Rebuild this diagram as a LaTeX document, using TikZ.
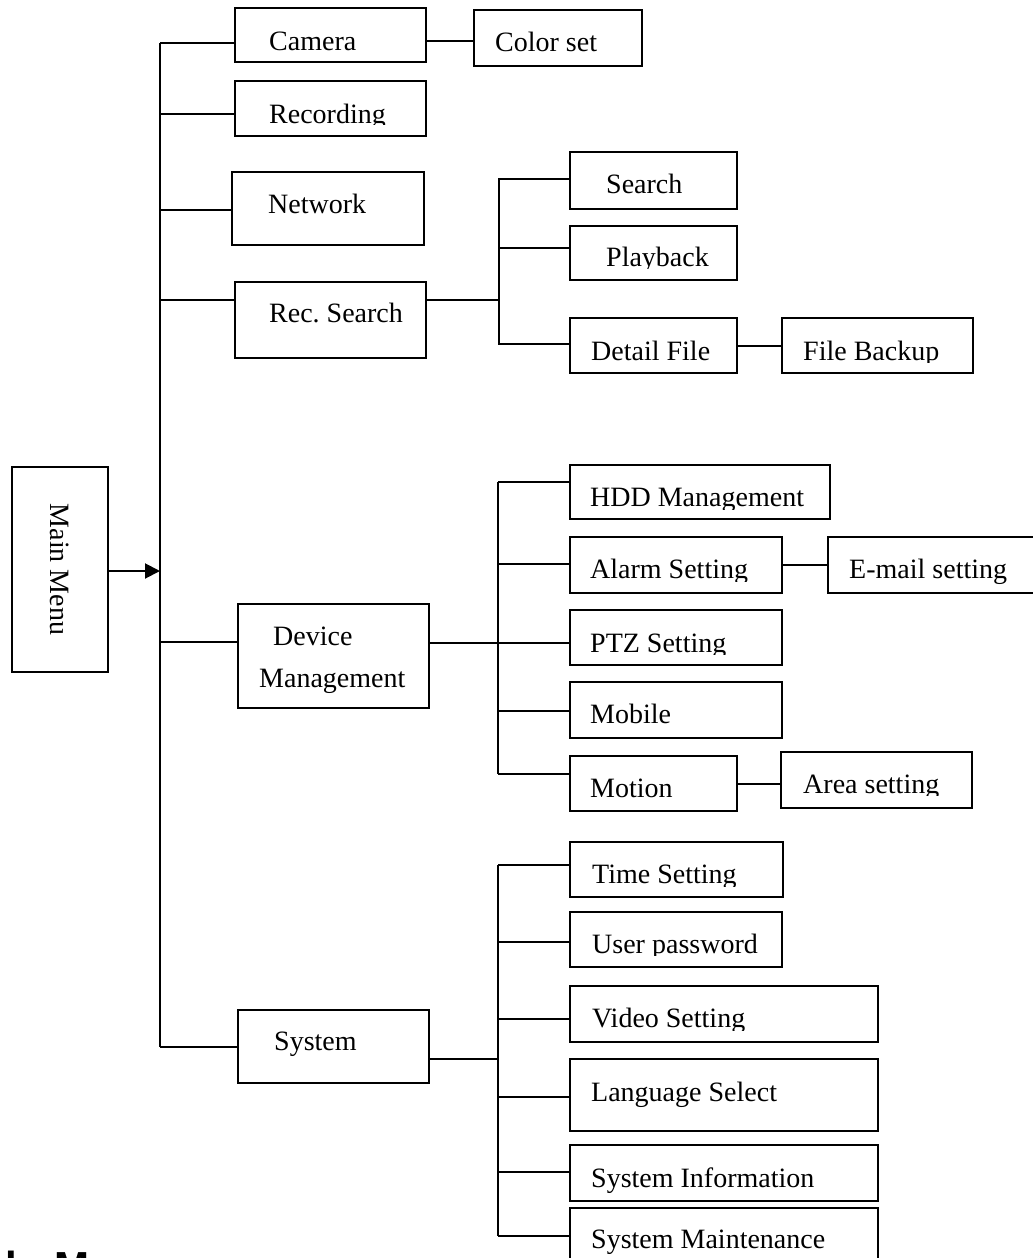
\documentclass[tikz,border=0pt]{standalone}
\usepackage{fontspec}
\setmainfont{Liberation Serif}
\setsansfont{Liberation Sans}
\usetikzlibrary{arrows.meta, positioning}

\tikzset{
  menubox/.style={draw, line width=2pt, inner sep=0pt, outer sep=0pt, anchor=north west},
  menutext/.style={font=\fontsize{28}{34}\selectfont, inner sep=0pt, anchor=base west},
  link/.style={line width=2pt}
}

% box (x1,y1)-(x2,y2), text at (tx,ty), text cut below the clip line
\newcommand{\menuitem}[9]{%
  \node[menubox, minimum width={(#4)-(#2)}, minimum height={(#5)-(#3)}] (#1) at (#2,#3) {};
  \begin{scope}
    \clip (#2,#3) rectangle (#4,#8);
    \node[menutext] (#1-txt) at (#6,#7) {#9};
  \end{scope}}

\begin{document}
\begin{tikzpicture}[x=1pt, y=-1pt]
\useasboundingbox (0,0) rectangle (1033,1258);

% Main menu and first level
\node[menubox, minimum width=96, minimum height=205] (main) at (12,467) {};
\node[font=\fontsize{28}{34}\selectfont, rotate=-90] (main-txt) at (main.center) {Main Menu};

\menuitem{cam}{235}{8}{426}{62}{269}{50}{62}{Camera}
\menuitem{rec}{235}{81}{426}{136}{269}{123}{124}{Recording}
\menuitem{net}{232}{172}{424}{245}{268}{213}{245}{Network}
\menuitem{recs}{235}{282}{426}{358}{269}{322}{358}{Rec.\ Search}
\menuitem{dev}{238}{604}{429}{708}{273}{645}{708}{Device}
\node[menutext] (dev-txt2) at (259,687) {Management};
\menuitem{sys}{238}{1010}{429}{1083}{274}{1050}{1083}{System}

% Second level
\menuitem{col}{474}{10}{642}{66}{495}{51}{66}{Color set}
\menuitem{search}{570}{152}{737}{209}{606}{193}{209}{Search}
\menuitem{play}{570}{226}{737}{280}{606}{266}{268}{Playback}
\menuitem{det}{570}{318}{737}{373}{591}{360}{373}{Detail File}
\menuitem{bak}{782}{318}{973}{373}{803}{360}{362}{File Backup}

\menuitem{hdd}{570}{465}{830}{519}{590}{506}{509}{HDD Management}
\menuitem{alarm}{570}{537}{782}{593}{590}{578}{581}{Alarm Setting}
\menuitem{email}{828}{537}{1040}{593}{849}{578}{593}{E-mail setting}
\menuitem{ptz}{570}{610}{782}{665}{590}{652}{654}{PTZ Setting}
\menuitem{mob}{570}{682}{782}{738}{590}{723}{738}{Mobile}
\menuitem{mot}{570}{756}{737}{811}{590}{797}{811}{Motion}
\menuitem{area}{781}{752}{972}{808}{803}{793}{795}{Area setting}

\menuitem{time}{570}{842}{783}{897}{592}{883}{886}{Time Setting}
\menuitem{user}{570}{912}{782}{967}{592}{953}{955}{User password}
\menuitem{video}{570}{986}{878}{1042}{592}{1027}{1030}{Video Setting}
\menuitem{lang}{570}{1059}{878}{1131}{591}{1101}{1131}{Language Select}
\menuitem{info}{570}{1145}{878}{1201}{591}{1187}{1201}{System Information}
\menuitem{maint}{570}{1208}{878}{1290}{591}{1248}{1290}{System Maintenance}

% Main trunk
\coordinate (mArr) at (160,571);
\draw[link, -{Triangle[length=15pt, width=15pt]}] (main.east |- mArr) -- (mArr);
\draw[link] (160,43) -- (160,1047);
\foreach \n/\y in {cam/43, rec/114, net/210, recs/300, dev/642, sys/1047} {
  \coordinate (tk) at (160,\y);
  \draw[link] (tk) -- (\n.west |- tk);
}

% Rec. Search branch
\coordinate (st1) at (499,300);
\draw[link] (recs.east |- st1) -- (st1);
\draw[link] (499,178) -- (499,345);
\foreach \n/\y in {search/179, play/248, det/344} {
  \coordinate (tk) at (499,\y);
  \draw[link] (tk) -- (\n.west |- tk);
}

% Device Management branch
\coordinate (st2) at (498,643);
\draw[link] (dev.east |- st2) -- (st2);
\draw[link] (498,482) -- (498,774);
\foreach \n/\y in {hdd/482, alarm/564, ptz/643, mob/711, mot/774} {
  \coordinate (tk) at (498,\y);
  \draw[link] (tk) -- (\n.west |- tk);
}

% System branch
\coordinate (st3) at (498,1059);
\draw[link] (sys.east |- st3) -- (st3);
\draw[link] (498,865) -- (498,1236);
\foreach \n/\y in {time/865, user/942, video/1019, lang/1097, info/1172, maint/1236} {
  \coordinate (tk) at (498,\y);
  \draw[link] (tk) -- (\n.west |- tk);
}

% Third level links
\coordinate (cl) at (450,41);
\draw[link] (cam.east |- cl) -- (col.west |- cl);
\draw[link] (det.east) -- (bak.west |- det.east);
\draw[link] (alarm.east) -- (email.west |- alarm.east);
\draw[link] (mot.east) -- (area.west |- mot.east);

% Cut-off heading at the bottom edge
\node[font=\sffamily\bfseries\fontsize{42}{42}\selectfont, inner sep=0pt, anchor=base west] (foot) at (5,1281) {b.\ M};

\end{tikzpicture}
\end{document}
